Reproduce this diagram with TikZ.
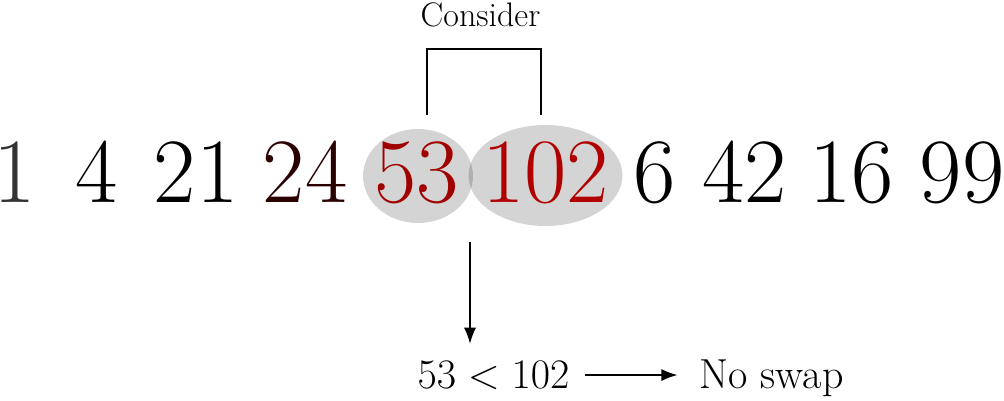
\RequirePackage{fix-cm}
\documentclass[tikz,border=0pt]{standalone}
\usepackage{tikz}
\usetikzlibrary{arrows.meta,positioning,calc}
\definecolor{SortedColor}{HTML}{333333}
\definecolor{PrevColor}{HTML}{2B0000}
\definecolor{LeftColor}{HTML}{A00000}
\definecolor{RightColor}{HTML}{B00000}
\tikzset{
  num/.style={anchor=base,inner sep=0pt,font=\fontsize{92}{100}\selectfont},
  bubble/.style={fill=black,fill opacity=0.17},
  note/.style={anchor=base,inner sep=0pt,font=\fontsize{42}{50}\selectfont},
  flow/.style={-{Latex[length=16pt,width=12pt]},line width=1.3pt}
}

\begin{document}
\begin{tikzpicture}[x=1pt,y=1pt]
  \useasboundingbox (0,0) rectangle (1004,400);
  % Pair under test
  \fill[bubble] (418,224) ellipse [x radius=55,y radius=47];
  \fill[bubble] (545.5,224.5) ellipse [x radius=77,y radius=50.5];
  % Array
  \foreach \x/\v/\col in {15/1/SortedColor,96.5/4/black,196/21/black,305/24/PrevColor,
    416.5/53/LeftColor,545.5/102/RightColor,655/6/black,744.5/42/black,851.5/16/black,962/99/black}{
    \node[num,text=\col] (n\v) at (\x,198){\v};
  }
  % Bracket
  \coordinate (bl) at (427,285);
  \coordinate (bt) at (484,351);
  \coordinate (br) at (541,285);
  \draw[line width=1.2pt] (bl) |- (bt) -| (br);
  \node[anchor=base,inner sep=0pt,font=\fontsize{34}{40}\selectfont] (consider) at (480.5,373){Consider};
  % Outcome
  \node[note] (cmp) at (493.5,12){$53<102$};
  \node[note] (res) at (771.5,12){No swap};
  \coordinate (drop) at (470,158);
  \draw[flow,shorten >=17pt] (drop) -- (drop |- cmp.north);
  \draw[flow,shorten <=15pt,shorten >=22pt] (cmp.east) -- (cmp.east -| res.west);
\end{tikzpicture}
\end{document}
